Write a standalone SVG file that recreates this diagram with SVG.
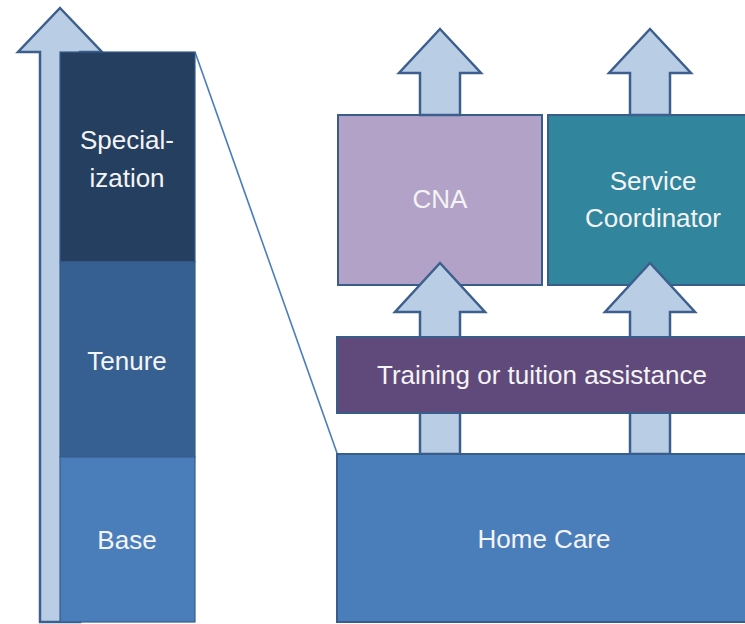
<svg xmlns="http://www.w3.org/2000/svg" width="745" height="624" viewBox="0 0 745 624">
  <style>
    .lbl { font-family: "Liberation Sans", Arial, sans-serif; font-size: 26px; fill: #f4f4f4; text-anchor: middle; }
    .arrow { fill: #b9cde5; stroke: #3d5f8d; stroke-width: 2.5; stroke-linejoin: miter; }
    .box { stroke: #385d8a; stroke-width: 2; }
    .col { stroke: #385d8a; stroke-width: 1.2; }
  </style>
  <rect width="745" height="624" fill="#ffffff"/>

  <g id="connectors">
    <polygon id="big-arrow" class="arrow" points="60,8 102,52 80,52 80,622 40,622 40,52 18,52"/>
    <line id="zoom-line" x1="195" y1="52" x2="337" y2="453" stroke="#4a7ebb" stroke-width="1.6"/>
  </g>

  <g id="specialization">
    <rect class="col" x="60" y="52" width="135" height="210" fill="#253f61"/>
    <text class="lbl" x="127" y="149">Special-</text>
    <text class="lbl" x="127" y="187">ization</text>
  </g>
  <g id="tenure">
    <rect class="col" x="60" y="262" width="135" height="195" fill="#376092"/>
    <text class="lbl" x="127" y="370">Tenure</text>
  </g>
  <g id="base">
    <rect class="col" x="60" y="457" width="135" height="165" fill="#4a7ebb"/>
    <text class="lbl" x="127" y="549">Base</text>
  </g>

  <g id="cna">
    <rect class="box" x="338" y="115" width="204" height="170" fill="#b3a2c7"/>
    <text class="lbl" x="440" y="208">CNA</text>
  </g>
  <g id="service-coordinator">
    <rect class="box" x="548" y="115" width="215" height="170" fill="#31859c"/>
    <text class="lbl" x="653" y="190">Service</text>
    <text class="lbl" x="653" y="227">Coordinator</text>
  </g>

  <g id="connectors-mid">
    <polygon class="arrow" points="440,263 485,312 460,312 460,454 420,454 420,312 395,312"/>
    <polygon class="arrow" points="650,263 695,312 670,312 670,454 630,454 630,312 605,312"/>
  </g>

  <g id="training">
    <rect class="box" x="337" y="337" width="426" height="76" fill="#604a7b"/>
    <text class="lbl" x="542" y="384">Training or tuition assistance</text>
  </g>

  <g id="home-care">
    <rect class="box" x="337" y="454" width="426" height="168" fill="#4a7ebb"/>
    <text class="lbl" x="544" y="548">Home Care</text>
  </g>

  <g id="connectors-top">
    <polygon class="arrow" points="440,29 481,73 460,73 460,115 420,115 420,73 399,73"/>
    <polygon class="arrow" points="650,29 691,73 670,73 670,115 630,115 630,73 609,73"/>
  </g>
</svg>
